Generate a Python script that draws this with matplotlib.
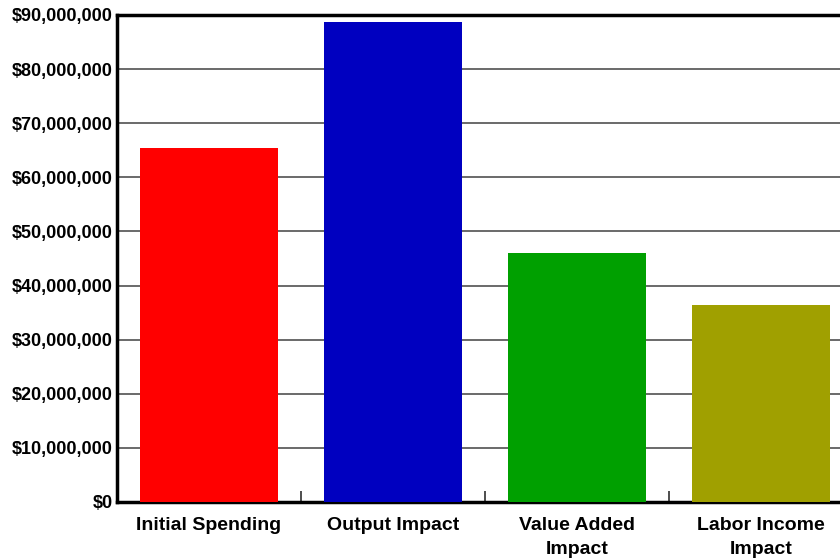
import matplotlib
matplotlib.use('Agg')
import matplotlib.pyplot as plt
from matplotlib.ticker import FuncFormatter, FixedLocator

categories = ['Initial Spending', 'Output Impact', 'Value Added\nImpact', 'Labor Income\nImpact']
values = [65400000, 88700000, 46100000, 36400000]
colors = ['#FF0000', '#0000C0', '#00A000', '#A0A000']

plt.rcParams['font.family'] = ['Liberation Sans', 'DejaVu Sans']
plt.rcParams['font.weight'] = 'bold'

fig = plt.figure(figsize=(8.4, 5.6), dpi=100)
# axes runs past the right edge, like the cropped original
ax = fig.add_axes([117 / 840, 58 / 560, 736 / 840, 487 / 560])

x = range(len(categories))
ax.bar(x, values, width=0.745, color=colors, zorder=3)

ax.set_xlim(-0.5, len(categories) - 0.5)
ax.set_ylim(0, 90000000)
ax.set_yticks(range(0, 90000001, 10000000))
ax.yaxis.set_major_formatter(FuncFormatter(lambda v, p: '${:,.0f}'.format(v)))
ax.yaxis.grid(True, color='#505050', linewidth=1.2, zorder=1)
ax.tick_params(axis='y', length=0, pad=3, labelsize=13)

ax.set_xticks(list(x))
ax.set_xticklabels(categories, fontsize=14, fontweight='bold', linespacing=1.55)
ax.tick_params(axis='x', which='major', length=0, pad=11)
ax.xaxis.set_minor_locator(FixedLocator([0.5, 1.5, 2.5]))
ax.tick_params(axis='x', which='minor', direction='in', length=8, width=1.2, color='#303030')

for s in ['left', 'bottom', 'top']:
    ax.spines[s].set_linewidth(2.5)
    ax.spines[s].set_color('black')
ax.spines['right'].set_visible(False)

plt.savefig('out.png', dpi=100)
